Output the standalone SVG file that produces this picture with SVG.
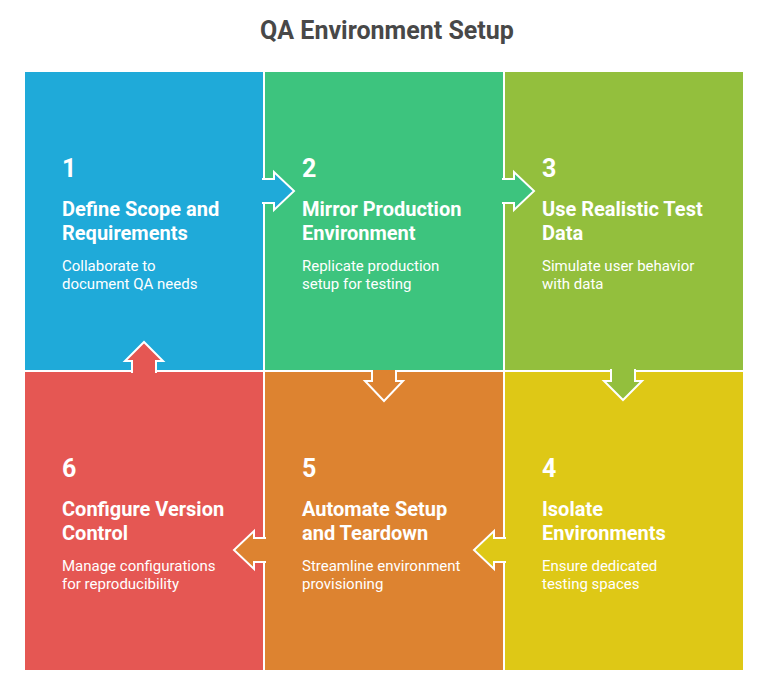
<svg xmlns="http://www.w3.org/2000/svg" width="768" height="683" viewBox="0 0 768 683">
<style>
text{font-family:Roboto,"Liberation Sans",sans-serif;fill:#fff}
.title{font-size:25px;font-weight:700;fill:#484848}
.num{font-size:25px;font-weight:700}
.head{font-size:20px;font-weight:700}
.desc{font-size:15px}
.arr{stroke:#fff;stroke-width:2;stroke-linejoin:miter}
</style>
<rect width="768" height="683" fill="#fff"/>
<text class="title" x="387" y="39" text-anchor="middle">QA Environment Setup</text>
<g id="node1">
<rect x="25" y="72" width="238" height="298" fill="#1FAAD9"/>
<text class="num" x="62" y="177">1</text>
<text class="head" x="62" y="216">Define Scope and</text>
<text class="head" x="62" y="240">Requirements</text>
<text class="desc" x="62" y="271">Collaborate to</text>
<text class="desc" x="62" y="289">document QA needs</text>
</g>
<g id="node2">
<rect x="265" y="72" width="238" height="298" fill="#3DC47E"/>
<text class="num" x="302" y="177">2</text>
<text class="head" x="302" y="216">Mirror Production</text>
<text class="head" x="302" y="240">Environment</text>
<text class="desc" x="302" y="271">Replicate production</text>
<text class="desc" x="302" y="289">setup for testing</text>
</g>
<g id="node3">
<rect x="505" y="72" width="238" height="298" fill="#93BF3D"/>
<text class="num" x="542" y="177">3</text>
<text class="head" x="542" y="216">Use Realistic Test</text>
<text class="head" x="542" y="240">Data</text>
<text class="desc" x="542" y="271">Simulate user behavior</text>
<text class="desc" x="542" y="289">with data</text>
</g>
<g id="node4">
<rect x="505" y="372" width="238" height="298" fill="#DEC816"/>
<text class="num" x="542" y="477">4</text>
<text class="head" x="542" y="516">Isolate</text>
<text class="head" x="542" y="540">Environments</text>
<text class="desc" x="542" y="571">Ensure dedicated</text>
<text class="desc" x="542" y="589">testing spaces</text>
</g>
<g id="node5">
<rect x="265" y="372" width="238" height="298" fill="#DD8330"/>
<text class="num" x="302" y="477">5</text>
<text class="head" x="302" y="516">Automate Setup</text>
<text class="head" x="302" y="540">and Teardown</text>
<text class="desc" x="302" y="571">Streamline environment</text>
<text class="desc" x="302" y="589">provisioning</text>
</g>
<g id="node6">
<rect x="25" y="372" width="238" height="298" fill="#E55753"/>
<text class="num" x="62" y="477">6</text>
<text class="head" x="62" y="516">Configure Version</text>
<text class="head" x="62" y="540">Control</text>
<text class="desc" x="62" y="571">Manage configurations</text>
<text class="desc" x="62" y="589">for reproducibility</text>
</g>
<g id="connectors">
<path class="arr" fill="#1FAAD9" d="M262,179 H274 V172 L294,191 L274,210 V203 H262"/>
<path class="arr" fill="#3DC47E" d="M502,179 H514 V172 L534,191 L514,210 V203 H502"/>
<path class="arr" fill="#93BF3D" d="M611,369 V381 H604 L623,400 L642,381 H635 V369"/>
<path class="arr" fill="#DEC816" d="M506,538 H494 V531 L474,550 L494,569 V562 H506"/>
<path class="arr" fill="#DD8330" d="M266,538 H254 V531 L234,550 L254,569 V562 H266"/>
<path class="arr" fill="#E55753" d="M132,373 V361 H125 L144,342 L163,361 H156 V373"/>
<path class="arr" fill="#DD8330" d="M372,370 V381 H365 L384,401 L403,381 H396 V370"/>
</g>
</svg>
